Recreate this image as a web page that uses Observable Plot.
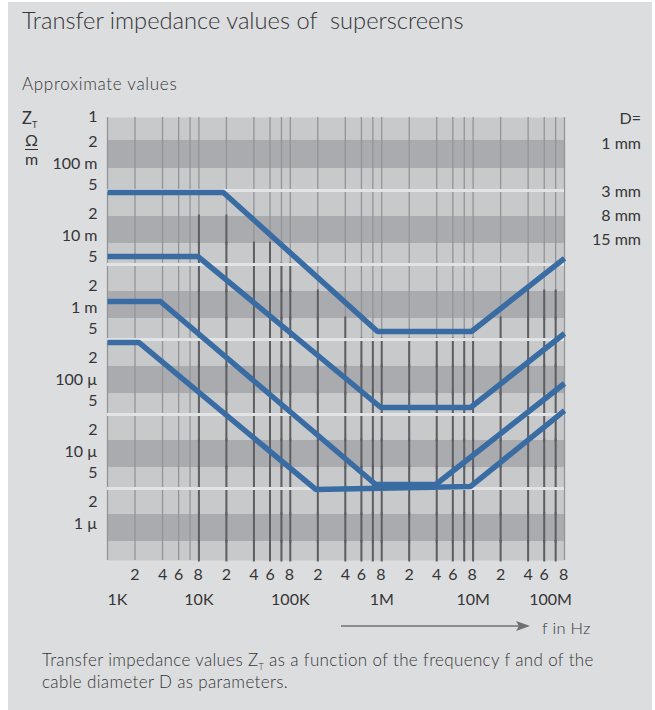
<!DOCTYPE html>
<html><head><meta charset="utf-8">
<script src="https://cdn.jsdelivr.net/npm/d3@7"></script>
<script src="https://cdn.jsdelivr.net/npm/@observablehq/plot@0.6"></script>
<style>
body{margin:0;background:#fff;width:655px;height:710px;overflow:hidden;font-family:Lato,"Open Sans",sans-serif;color:#353537;position:relative}
#panel{position:absolute;left:8px;top:2px;width:644px;height:708px;background:#dcdddf}
#chart{position:absolute;left:0;top:0}
.t{position:absolute;white-space:nowrap;line-height:1}
</style></head><body>
<div id="panel"></div>
<div id="chart"></div>
<div class="t" style="left:22px;top:9px;font-size:23.7px;font-weight:300">Transfer impedance values of&nbsp; superscreens</div>
<div class="t" style="left:22px;top:75px;font-size:17px;font-weight:300;letter-spacing:0.7px">Approximate values</div>
<div class="t" style="left:22px;top:110px;font-size:16.5px">Z<span style="font-size:9px;position:relative;top:4px">T</span></div>
<div class="t" style="left:25px;top:132px;font-size:16px;text-align:center;width:13px"><span style="display:block;border-bottom:1.3px solid #353537;padding-bottom:1px">Ω</span><span style="display:block;margin-top:1px">m</span></div>
<div class="t" id="dlab" style="right:14px;top:0;text-align:right;font-size:16px"></div>
<svg class="t" style="left:330px;top:618px" width="210" height="16"><line x1="11" y1="8" x2="190" y2="8" stroke="#6e6f72" stroke-width="1.4"/><path d="M186,3 L200,8 L186,13 L189,8 Z" fill="#6e6f72"/></svg>
<div class="t" style="left:542px;top:620px;font-size:16.5px;font-weight:300;letter-spacing:0.3px">f in Hz</div>
<div class="t" style="left:42px;top:651px;font-size:17px;font-weight:300;letter-spacing:0.35px">Transfer impedance values Z<span style="font-size:9px;position:relative;top:4px;line-height:0">T</span> as a function of the frequency f and of the</div>
<div class="t" style="left:42px;top:673px;font-size:17px;font-weight:300;letter-spacing:0.35px">cable diameter D as parameters.</div>
<script>
// ---------- data ----------
const decades = [1e3, 1e4, 1e5, 1e6, 1e7, 1e8];
const decadeLabels = ["1K", "10K", "100K", "1M", "10M", "100M"];
const minorMultipliers = [2, 4, 6, 8];
const minorLabels = ["2", "4", "6", "8"];

const yTickValues = [0.45, 0.2, 0.1, 0.05, 0.02, 0.01, 0.005, 0.002, 0.001, 5e-4, 2e-4, 1e-4, 5e-5, 2e-5, 1e-5, 5e-6, 2e-6, 1e-6];
const yTickLabels = ["1", "2", "100 m", "5", "2", "10 m", "5", "2", "1 m", "5", "2", "100 µ", "5", "2", "10 µ", "5", "2", "1 µ"];

const darkBandTop    = [0.209, 0.01834, 0.001668, 1.517e-4, 1.42e-5, 1.333e-6];
const darkBandBottom = [0.0852, 0.00774, 7.03e-4, 6.39e-5, 5.99e-6, 5.62e-7];
const whiteStripes = [0.0422, 3.95e-3, 3.59e-4, 3.27e-5, 3.06e-6];

const diameterLabels = ["1 mm", "3 mm", "8 mm", "15 mm"];
const f_1mm  = [1e3, 18.5e3, 0.9e6, 9.6e6, 1e8];
const z_1mm  = [0.0396, 0.0396, 4.64e-4, 4.64e-4, 4.8e-3];
const f_3mm  = [1e3, 9.8e3, 0.98e6, 9.4e6, 1e8];
const z_3mm  = [5.1e-3, 5.1e-3, 4.08e-5, 4.08e-5, 4.35e-4];
const f_8mm  = [1e3, 3.8e3, 0.86e6, 3.9e6, 1e8];
const z_8mm  = [1.21e-3, 1.21e-3, 3.48e-6, 3.48e-6, 8.8e-5];
const f_15mm = [1e3, 2.2e3, 1.9e5, 9.4e6, 1e8];
const z_15mm = [3.27e-4, 3.27e-4, 2.97e-6, 3.27e-6, 3.7e-5];

// ---------- derived tables ----------
const series = [
  {f: f_1mm, z: z_1mm}, {f: f_3mm, z: z_3mm}, {f: f_8mm, z: z_8mm}, {f: f_15mm, z: z_15mm}
];
const linePts = series.flatMap((s, k) => s.f.map((f, i) => ({k, f, z: s.z[i]})));

const gridX = [];
decades.slice(0, -1).forEach(d => { gridX.push(d); minorMultipliers.forEach(m => gridX.push(d * m)); });
gridX.push(decades[decades.length - 1]);

const minorTicks = [];
decades.slice(0, -1).forEach(d => minorMultipliers.forEach((m, j) => minorTicks.push({f: d * m, label: minorLabels[j]})));
const decadeTicks = decades.map((d, i) => ({f: d, label: decadeLabels[i], i}));

// interpolate top curve (log-log)
function topCurve(f) {
  const lf = Math.log10(f);
  for (let i = 0; i < f_1mm.length - 1; i++) {
    const a = Math.log10(f_1mm[i]), b = Math.log10(f_1mm[i + 1]);
    if (lf >= a && lf <= b) {
      const t = (lf - a) / (b - a);
      return Math.pow(10, Math.log10(z_1mm[i]) + t * (Math.log10(z_1mm[i + 1]) - Math.log10(z_1mm[i])));
    }
  }
  return z_1mm[z_1mm.length - 1];
}
const yDomain = [3.06e-7, 0.435];
const bounds = [yDomain[1], ...darkBandTop, ...darkBandBottom, ...whiteStripes, yDomain[0]].sort((a, b) => b - a);
const darkSegs = [];
gridX.filter(f => f >= 1e4 && f < 1e8).forEach(f => {
  const c = topCurve(f);
  for (let i = 0; i < bounds.length - 1; i++) {
    if (bounds[i] < c * 0.9) darkSegs.push({f, hi: bounds[i], lo: bounds[i + 1]});
  }
});

const blue = "#3a6ca4";
const chart = Plot.plot({
  width: 655, height: 710,
  marginLeft: 107, marginRight: 91, marginTop: 117, marginBottom: 150,
  style: {background: "transparent", fontFamily: "Lato, 'Open Sans', sans-serif", fontSize: "16px", color: "#353537", overflow: "visible"},
  x: {type: "log", domain: [1e3, 1e8], axis: null},
  y: {type: "log", domain: yDomain, axis: null},
  marks: [
    Plot.frame({fill: "#c8c9cb", stroke: null}),
    Plot.rect(d3.range(darkBandTop.length), {x1: () => 1e3, x2: () => 1e8, y1: i => darkBandBottom[i], y2: i => darkBandTop[i], fill: "#aaabae"}),
    Plot.ruleX(gridX, {stroke: "#939497", strokeWidth: 1.3}),
    Plot.ruleX(darkSegs, {x: "f", y1: "lo", y2: "hi", stroke: "#5e5f62", strokeWidth: 2, insetTop: 1.5, insetBottom: 1.5}),
    Plot.ruleY(whiteStripes, {stroke: "#e2e3e5", strokeWidth: 3}),
    Plot.line(linePts, {x: "f", y: "z", z: "k", stroke: blue, strokeWidth: 5.5, strokeLinecap: "butt", strokeLinejoin: "miter"}),
    Plot.text(d3.range(yTickValues.length), {y: i => yTickValues[i], text: i => yTickLabels[i], frameAnchor: "left", textAnchor: "end", dx: -10}),
    Plot.text(minorTicks.filter(d => d.label !== "8"), {x: "f", text: "label", frameAnchor: "bottom", dy: 19}),
    Plot.text(minorTicks.filter(d => d.label === "8"), {x: "f", text: "label", frameAnchor: "bottom", dy: 19, dx: 8}),
    Plot.text(decadeTicks.filter(d => d.i === 0), {x: "f", text: "label", frameAnchor: "bottom", dy: 44, dx: 10}),
    Plot.text(decadeTicks.filter(d => d.i > 0 && d.i < 5), {x: "f", text: "label", frameAnchor: "bottom", dy: 44}),
    Plot.text(decadeTicks.filter(d => d.i === 5), {x: "f", text: "label", frameAnchor: "bottom", dy: 44, dx: -14})
  ]
});
document.getElementById("chart").appendChild(chart);

// right-hand diameter labels
const dTops = [110, 135, 183, 207, 231];
const dTexts = ["D=", ...diameterLabels];
const dl = document.getElementById("dlab");
dTexts.forEach((t, i) => {
  const e = document.createElement("div");
  e.className = "t"; e.style.right = "0"; e.style.top = dTops[i] + "px"; e.textContent = t;
  dl.appendChild(e);
});
</script>
</body></html>
